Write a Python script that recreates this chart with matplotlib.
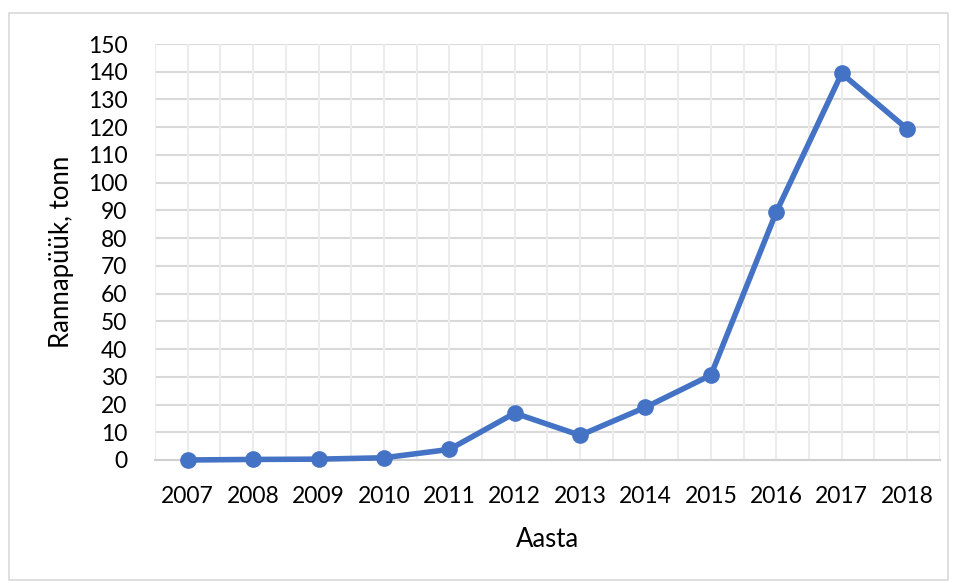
import matplotlib.pyplot as plt
from matplotlib.patches import Rectangle

years = ["2007", "2008", "2009", "2010", "2011", "2012", "2013", "2014", "2015", "2016", "2017", "2018"]
catch = [0.0, 0.2, 0.3, 0.8, 3.8, 16.9, 8.9, 19.0, 30.6, 89.4, 139.4, 119.4]
yticks = list(range(0, 151, 10))

plt.rcParams['font.family'] = ['Lato', 'DejaVu Sans']

fig = plt.figure(figsize=(9.57, 5.83), dpi=100)
ax = fig.add_axes([0.162, 0.211, 0.820, 0.7135])

# chart border
fig.patches.append(Rectangle((9 / 957, 3 / 583), 939 / 957, 567 / 583, transform=fig.transFigure,
                             fill=False, edgecolor="#d9d9d9", linewidth=1.2))

x = list(range(len(years)))
ax.plot(x, catch, color="#4472C4", linewidth=4, marker="o", markersize=11, zorder=3, clip_on=False)

ax.set_xlim(-0.5, len(years) - 0.5)
ax.set_ylim(0, 150)
ax.set_yticks(yticks)
ax.set_xticks(x)
ax.set_xticklabels(years)

# gridlines: horizontal at ticks, vertical at centers and boundaries
for v in yticks[1:]:
    ax.axhline(v, color="#d9d9d9", linewidth=1.5, zorder=1)
for i in range(len(years)):
    ax.axvline(i, color="#ececec", linewidth=1.5, zorder=1)
    ax.axvline(i - 0.5, color="#ececec", linewidth=1.5, zorder=1)
ax.axvline(len(years) - 0.5, color="#ececec", linewidth=1.5, zorder=1)

for s in ["top", "right", "left"]:
    ax.spines[s].set_visible(False)
ax.spines["bottom"].set_color("#d0d0d0")
ax.spines["bottom"].set_linewidth(1.5)
ax.tick_params(length=0, labelsize=16.5, colors="black")
ax.tick_params(axis="x", pad=19)
ax.tick_params(axis="y", pad=20)

ax.set_xlabel("Aasta", fontsize=18.5, labelpad=14)
ax.set_ylabel("Rannapüük, tonn", fontsize=18.5, labelpad=10)

fig.savefig("out.png", dpi=100)
